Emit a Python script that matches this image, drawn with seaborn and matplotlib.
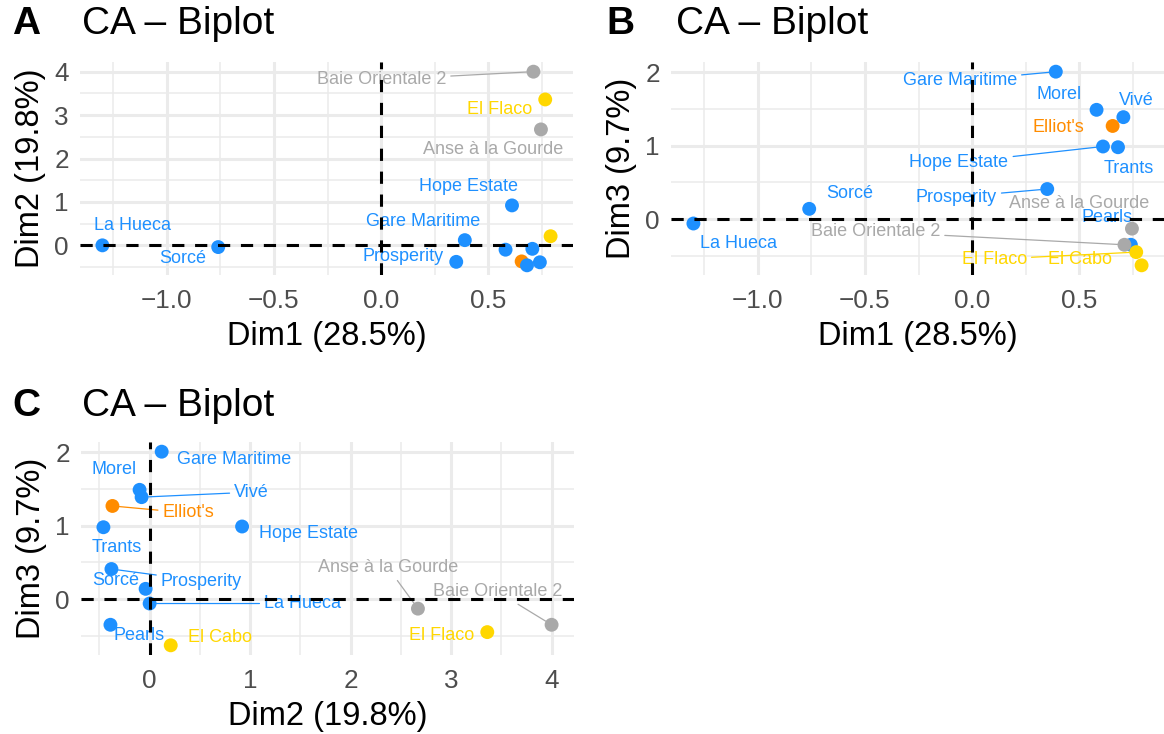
import pandas as pd
import matplotlib
matplotlib.use("Agg")
import matplotlib.pyplot as plt
from matplotlib.ticker import MultipleLocator, AutoMinorLocator
import seaborn as sns

# Sitios y coordenadas (CA)
sites = ["La Hueca", "Sorcé", "Gare Maritime", "Prosperity", "Hope Estate",
         "Morel", "Vivé", "Elliot's", "Trants", "Pearls",
         "Anse à la Gourde", "Baie Orientale 2", "El Flaco", "El Cabo"]
groups = ["g1", "g1", "g1", "g1", "g1",
          "g1", "g1", "g2", "g1", "g1",
          "g3", "g3", "g4", "g4"]
dim1 = [-1.30, -0.76, 0.39, 0.35, 0.61, 0.58, 0.705, 0.655, 0.68, 0.74, 0.745, 0.71, 0.765, 0.79]
dim2 = [0.00, -0.04, 0.12, -0.38, 0.92, -0.10, -0.08, -0.37, -0.46, -0.39, 2.67, 4.00, 3.36, 0.21]
dim3 = [-0.06, 0.14, 2.01, 0.41, 0.99, 1.49, 1.39, 1.27, 0.98, -0.35, -0.13, -0.35, -0.45, -0.63]
dim_pct = [28.5, 19.8, 9.7]

palette = {"g1": "#1E90FF", "g2": "#FF8C00", "g3": "#A9A9A9", "g4": "#FFD700"}

df = pd.DataFrame({"site": sites, "group": groups,
                   "Dim1": dim1, "Dim2": dim2, "Dim3": dim3})

# Posicion de las etiquetas (offset en pixeles, y si lleva segmento)
labels_a = {
    "La Hueca": (30, 20, False),
    "Sorcé": (-36, -11, False),
    "Gare Maritime": (-42, 19, False),
    "Prosperity": (-53, 5, False),
    "Hope Estate": (-43, 19, False),
    "Baie Orientale 2": (-152, -8, True),
    "El Flaco": (-46, -10, False),
    "Anse à la Gourde": (-48, -20, False),
}
labels_b = {
    "Gare Maritime": (-96, -9, True),
    "Morel": (-37, 15, False),
    "Vivé": (13, 17, False),
    "Elliot's": (-54, -2, False),
    "Hope Estate": (-144, -16, True),
    "Trants": (11, -21, False),
    "Sorcé": (40, 15, False),
    "Prosperity": (-91, -8, True),
    "Anse à la Gourde": (-53, 25, False),
    "Pearls": (-24, 27, False),
    "La Hueca": (45, -20, False),
    "Baie Orientale 2": (-249, 13, True),
    "El Flaco": (-142, -7, True),
    "El Cabo": (-62, 6, False),
}
labels_c = {
    "Gare Maritime": (72, -8, False),
    "Morel": (-26, 20, False),
    "Vivé": (110, 5, True),
    "Elliot's": (76, -7, True),
    "Hope Estate": (66, -7, False),
    "Trants": (13, -20, False),
    "Prosperity": (90, -12, True),
    "Sorcé": (-30, 8, False),
    "La Hueca": (153, 0, True),
    "Pearls": (29, -11, False),
    "El Cabo": (49, 8, False),
    "Anse à la Gourde": (-30, 41, True),
    "Baie Orientale 2": (-54, 33, True),
    "El Flaco": (-46, -3, False),
}

sns.set_style("white")
plt.rcParams["font.family"] = ["Liberation Sans", "DejaVu Sans"]

W, H = 1164, 734
fig = plt.figure(figsize=(W / 100, H / 100), dpi=100)


def axes_px(left, top, width, height):
    return fig.add_axes([left / W, 1 - (top + height) / H, width / W, height / H])


def expand(values):
    lo, hi = min(values), max(values)
    pad = (hi - lo) * 0.05
    return lo - pad, hi + pad


def draw_panel(ax, xcol, ycol, xi, yi, labels, xstep, letter, title_x, title_y):
    sns.scatterplot(data=df, x=xcol, y=ycol, hue="group", palette=palette,
                    s=100, edgecolor="none", legend=False, ax=ax, zorder=3)
    ax.set_xlim(*expand(df[xcol]))
    ax.set_ylim(*expand(df[ycol]))

    for site, (dx, dy, seg) in labels.items():
        row = df[df["site"] == site].iloc[0]
        col = palette[row["group"]]
        arrow = None
        if seg:
            arrow = dict(arrowstyle="-", color=col, lw=0.9, shrinkA=1, shrinkB=5)
        ax.annotate(site, (row[xcol], row[ycol]), xytext=(dx, dy),
                    textcoords="offset pixels", ha="center", va="center",
                    color=col, fontsize=13, arrowprops=arrow, zorder=4)

    # lineas de referencia
    ax.axhline(0, color="black", lw=2.2, ls=(0, (4, 3.5)), zorder=5)
    ax.axvline(0, color="black", lw=2.2, ls=(0, (4, 3.5)), zorder=5)

    ax.xaxis.set_major_locator(MultipleLocator(xstep))
    ax.yaxis.set_major_locator(MultipleLocator(1))
    ax.xaxis.set_minor_locator(AutoMinorLocator(2))
    ax.yaxis.set_minor_locator(AutoMinorLocator(2))
    ax.grid(which="major", color="#EBEBEB", lw=2.2, zorder=0)
    ax.grid(which="minor", color="#EBEBEB", lw=1.1, zorder=0)
    ax.set_axisbelow(True)
    for s in ax.spines.values():
        s.set_visible(False)
    ax.tick_params(which="major", length=6, width=2, color="black",
                   labelsize=18.8, labelcolor="#4D4D4D", pad=2)
    ax.tick_params(which="minor", length=0)
    ax.tick_params(axis="x", which="major", pad=4)

    ax.set_xlabel(f"Dim{xi} ({dim_pct[xi - 1]}%)", fontsize=23.5, color="black")
    ax.set_ylabel(f"Dim{yi} ({dim_pct[yi - 1]}%)", fontsize=23.5, color="black")
    ax.xaxis.set_label_coords(0.5, -0.29)
    ax.xaxis.label.set_va("center")
    ax.yaxis.set_label_coords(-0.10, 0.5)
    ax.yaxis.label.set_va("center")

    fig.text(title_x[0] / W, 1 - title_y / H, letter, fontsize=28,
             fontweight="bold", ha="left", va="center", color="black")
    fig.text(title_x[1] / W, 1 - title_y / H, "CA – Biplot", fontsize=28,
             ha="left", va="center", color="black")


ax_a = axes_px(80, 62, 493, 213)
ax_b = axes_px(671, 62, 493, 213)
ax_c = axes_px(81, 442, 493, 213)

draw_panel(ax_a, "Dim1", "Dim2", 1, 2, labels_a, 0.5, "A", (12, 82), 24)
draw_panel(ax_b, "Dim1", "Dim3", 1, 3, labels_b, 0.5, "B", (606, 676), 24)
draw_panel(ax_c, "Dim2", "Dim3", 2, 3, labels_c, 1, "C", (12, 82), 406)

fig.savefig("out.png", dpi=100)
